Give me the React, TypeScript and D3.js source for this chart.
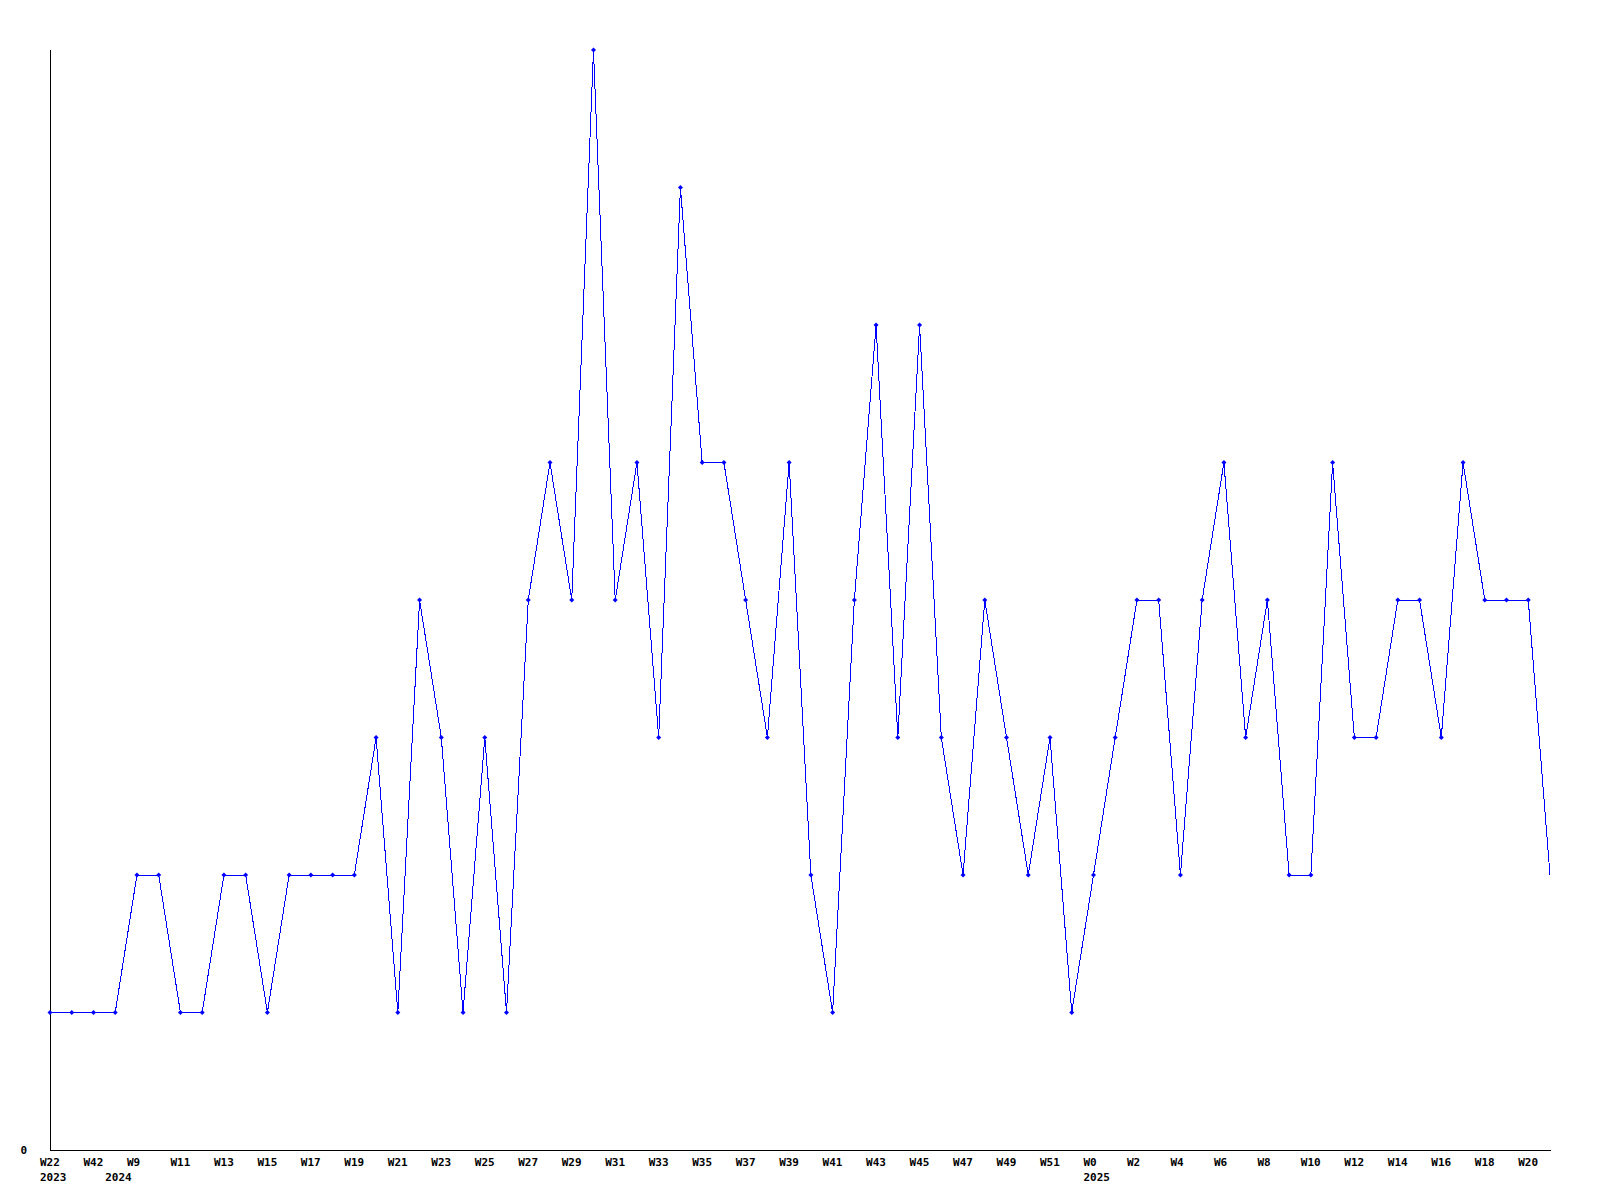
import React from "react";
import * as d3 from "d3";

const values: number[] = [
  1, 1, 1, 1, 2, 2, 1, 1, 2, 2,
  1, 2, 2, 2, 2, 3, 1, 4, 3, 1,
  3, 1, 4, 5, 4, 8, 4, 5, 3, 7,
  5, 5, 4, 3, 5, 2, 1, 4, 6, 3,
  6, 3, 2, 4, 3, 2, 3, 1, 2, 3,
  4, 4, 2, 4, 5, 3, 4, 2, 2, 5,
  3, 3, 4, 4, 3, 5, 4, 4, 4, 2,
];

const weekLabels: string[] = [
  "W22", "W42", "W9", "W11", "W13", "W15", "W17", "W19", "W21", "W23",
  "W25", "W27", "W29", "W31", "W33", "W35", "W37", "W39", "W41", "W43",
  "W45", "W47", "W49", "W51", "W0", "W2", "W4", "W6", "W8", "W10",
  "W12", "W14", "W16", "W18", "W20",
];

const yearLabels: { index: number; text: string }[] = [
  { index: 0, text: "2023" },
  { index: 3, text: "2024" },
  { index: 48, text: "2025" },
];

const yTicks: number[] = [0];

export default function App() {
  const left = 50, right = 1550, top = 50, bottom = 1150;
  const x = d3.scaleLinear().domain([0, values.length - 1]).range([left, right]);
  const y = d3.scaleLinear().domain([0, 8]).range([bottom, top]);
  const line = d3.line<number>().x((_, i) => x(i)).y((d) => y(d));
  const font = "'DejaVu Sans Mono', monospace";
  const diamond = (cx: number, cy: number) =>
    `M${cx},${cy - 2.5}L${cx + 2.5},${cy}L${cx},${cy + 2.5}L${cx - 2.5},${cy}Z`;
  return (
    <svg
      width={1600}
      height={1200}
      style={{ position: "absolute", left: 0, top: 0, background: "#fff" }}
    >
      <line x1={left} y1={top} x2={left} y2={bottom + 0.5} stroke="#000" strokeWidth={1} shapeRendering="crispEdges" />
      <line x1={left} y1={bottom} x2={right + 1} y2={bottom} stroke="#000" strokeWidth={1} shapeRendering="crispEdges" />
      {yTicks.map((t) => (
        <text key={t} x={27} y={y(t)} dy="0.35em" textAnchor="end" fontFamily={font} fontWeight="bold" fontSize={11} fill="#000">
          {t}
        </text>
      ))}
      {weekLabels.map((w, i) => (
        <text key={w + i} x={x(i * 2) - 10} y={1166} fontFamily={font} fontWeight="bold" fontSize={11} fill="#000">
          {w}
        </text>
      ))}
      {yearLabels.map((yl) => (
        <text key={yl.text} x={x(yl.index) - 10} y={1181} fontFamily={font} fontWeight="bold" fontSize={11} fill="#000">
          {yl.text}
        </text>
      ))}
      <path d={line(values) || ""} fill="none" stroke="#0000ff" strokeWidth={1} shapeRendering="crispEdges" />
      {values.slice(0, values.length - 1).map((v, i) => (
        <path key={i} d={diamond(x(i), y(v))} fill="#0000ff" />
      ))}
    </svg>
  );
}
